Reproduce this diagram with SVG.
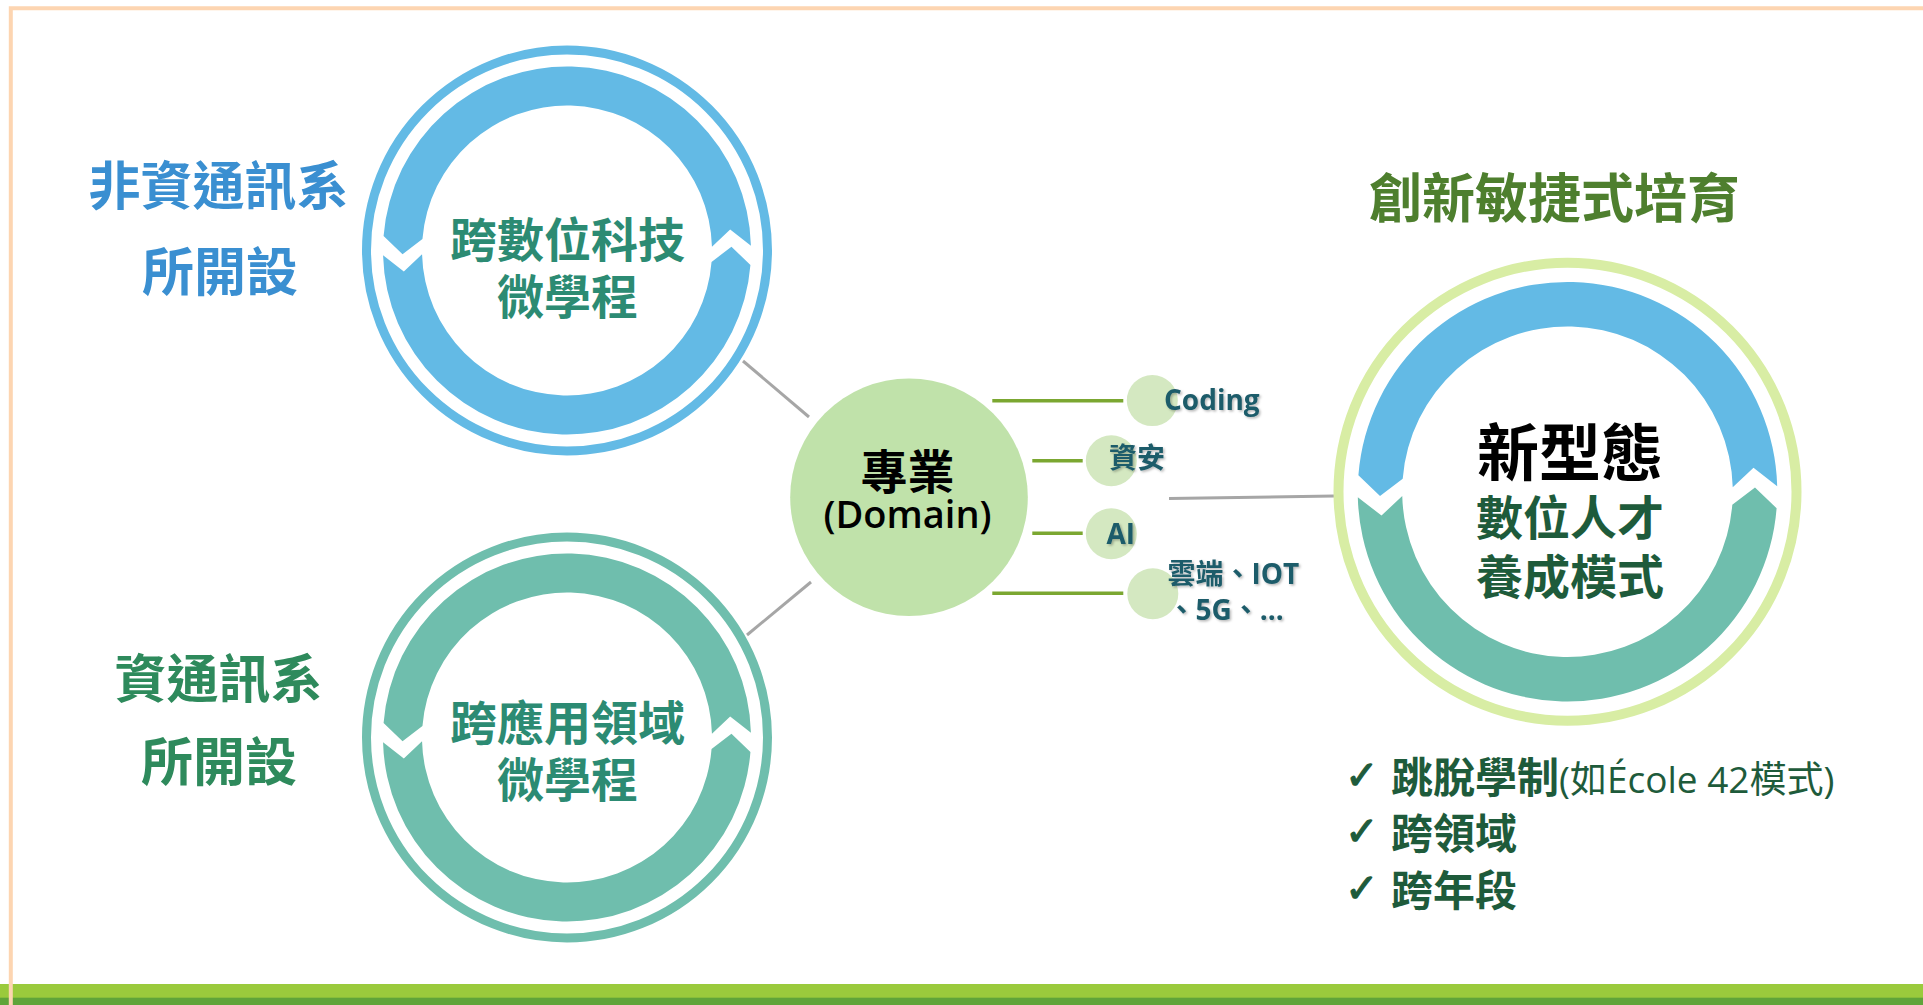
<svg xmlns="http://www.w3.org/2000/svg" xmlns:xlink="http://www.w3.org/1999/xlink" width="1923" height="1005" viewBox="0 0 1923 1005">
  <defs>
    <style>
      .cjk { font-family: "Noto Sans CJK TC", "Noto Sans", sans-serif; }
      .lat { font-family: "Open Sans", "Noto Sans CJK TC", sans-serif; }
      .b { font-weight: 700; }
      .mid { text-anchor: middle; }
      .ctext { fill: #2C8B73; font-size: 47px; }
      .small { fill: #1F5C6A; font-size: 28px; font-weight: 700; filter: url(#sh); }
      .gline { stroke: #A6A6A6; stroke-width: 3; fill: none; }
      .oline { stroke: #7BA731; stroke-width: 3.5; fill: none; }
      .blue { fill: #63BAE5; }
      .teal { fill: #6FBEAD; }
      .dot { fill: #D4E8C1; }
      .list { fill: #1E5B3B; font-size: 42px; }
      .chk { font-family: "DejaVu Sans", sans-serif; font-size: 40px; fill: #1E5B3B; stroke: #1E5B3B; stroke-width: 1.2; }
    </style>
    <filter id="sh" x="-20%" y="-20%" width="140%" height="150%">
      <feDropShadow dx="1.5" dy="1.5" stdDeviation="1" flood-color="#000" flood-opacity="0.28"/>
    </filter>
    <path id="arcA" d="M 183.94 -4.82 A 184 184 0 0 0 -183.43 -14.44 L -164.46 3.73 L -144.55 -11.38 A 145 145 0 0 1 144.95 -3.80 L 163.17 -20.90 Z"/>
  </defs>

  <rect width="1923" height="1005" fill="#FFFFFF"/>

  <!-- frame and footer -->
  <g id="frame">
    <rect x="0" y="984" width="1923" height="14" fill="#9ACA3C"/>
    <rect x="0" y="997.7" width="1923" height="7.3" fill="#5FA439"/>
    <path d="M 10.8 1005 V 8.3 H 1923" fill="none" stroke="#FDD5B1" stroke-width="4"/>
  </g>

  <!-- connectors -->
  <g id="connectors">
    <line class="gline" x1="743" y1="361" x2="809" y2="417"/>
    <line class="gline" x1="747" y1="635" x2="811" y2="582"/>
    <line class="gline" x1="1169" y1="498.5" x2="1334" y2="496"/>
    <line class="oline" x1="992.3" y1="400.7" x2="1123.3" y2="400.7"/>
    <line class="oline" x1="1032.3" y1="460.7" x2="1082.7" y2="460.7"/>
    <line class="oline" x1="1032.3" y1="533.3" x2="1082.7" y2="533.3"/>
    <line class="oline" x1="992.3" y1="593.3" x2="1123.3" y2="593.3"/>
  </g>

  <!-- left labels -->
  <g id="label-non-ict">
    <text class="cjk b mid" x="218.5" y="204.7" font-size="52" fill="#3A8FD1">非資通訊系</text>
    <text class="cjk b mid" x="220" y="291.4" font-size="52" fill="#3A8FD1">所開設</text>
  </g>
  <g id="label-ict">
    <text class="cjk b mid" x="218.5" y="697.8" font-size="52" fill="#2E8A5C">資通訊系</text>
    <text class="cjk b mid" x="219" y="781.4" font-size="52" fill="#2E8A5C">所開設</text>
  </g>

  <!-- top-left cycle -->
  <g id="node-digital">
    <circle cx="567" cy="250.5" r="200.5" fill="none" stroke="#63BAE5" stroke-width="9"/>
    <g transform="translate(567 250.5)">
      <use xlink:href="#arcA" class="blue"/>
      <use xlink:href="#arcA" class="blue" transform="rotate(180)"/>
    </g>
    <text class="cjk b mid ctext" x="567.5" y="256.7">跨數位科技</text>
    <text class="cjk b mid ctext" x="567.5" y="313.7">微學程</text>
  </g>

  <!-- bottom-left cycle -->
  <g id="node-application">
    <circle cx="567" cy="737.5" r="200.5" fill="none" stroke="#6FBEAD" stroke-width="9"/>
    <g transform="translate(567 737.5)">
      <use xlink:href="#arcA" class="teal"/>
      <use xlink:href="#arcA" class="teal" transform="rotate(180)"/>
    </g>
    <text class="cjk b mid ctext" x="567.5" y="740">跨應用領域</text>
    <text class="cjk b mid ctext" x="567.5" y="796.5">微學程</text>
  </g>

  <!-- domain -->
  <g id="node-domain">
    <circle cx="909" cy="497.2" r="118.8" fill="#C0E2AA"/>
    <text class="cjk b mid" x="907.5" y="488.5" font-size="47" fill="#000">專業</text>
    <text class="lat mid" x="907.5" y="528" font-size="38" font-weight="600" fill="#000">(Domain)</text>
  </g>

  <g id="node-coding">
    <circle class="dot" cx="1152.3" cy="400.6" r="25.5"/>
    <text class="lat small" x="1164" y="410">Coding</text>
  </g>
  <g id="node-security">
    <circle class="dot" cx="1111.3" cy="460.8" r="25.5"/>
    <text class="cjk small" x="1109" y="468">資安</text>
  </g>
  <g id="node-ai">
    <circle class="dot" cx="1111.3" cy="533.8" r="25.5"/>
    <text class="lat small" x="1106.5" y="544" font-size="30">AI</text>
  </g>
  <g id="node-cloud">
    <circle class="dot" cx="1152.8" cy="593.8" r="25.5"/>
    <text class="cjk small" x="1167.5" y="584">雲端、<tspan class="lat">IOT</tspan></text>
    <text class="cjk small" x="1167.5" y="620">、<tspan class="lat">5G</tspan>、<tspan class="lat">…</tspan></text>
  </g>

  <!-- right cycle -->
  <g id="title-agile">
    <text class="cjk b mid" x="1554.5" y="218" font-size="53" fill="#4E7F2E">創新敏捷式培育</text>
  </g>
  <g id="node-new-model">
    <circle cx="1567.5" cy="491.7" r="229" fill="none" stroke="#D8EDA4" stroke-width="10"/>
    <g transform="translate(1567.5 491.7) scale(1.14)">
      <use xlink:href="#arcA" class="blue"/>
      <use xlink:href="#arcA" class="teal" transform="rotate(180)"/>
    </g>
    <text class="cjk b mid" x="1570" y="475.7" font-size="62" fill="#000">新型態</text>
    <text class="cjk b mid" x="1570" y="534.7" font-size="47" fill="#1E5B3B">數位人才</text>
    <text class="cjk b mid" x="1570" y="593.7" font-size="47" fill="#1E5B3B">養成模式</text>
  </g>

  <g id="list-features">
    <text class="chk" x="1345" y="789">✓</text>
    <text class="chk" x="1345" y="845">✓</text>
    <text class="chk" x="1345" y="902">✓</text>
    <text class="cjk b list" x="1391" y="792.8">跳脫學制<tspan class="lat" font-weight="400" font-size="37">(如École 42模式)</tspan></text>
    <text class="cjk b list" x="1391" y="848.6">跨領域</text>
    <text class="cjk b list" x="1391" y="906">跨年段</text>
  </g>
</svg>
